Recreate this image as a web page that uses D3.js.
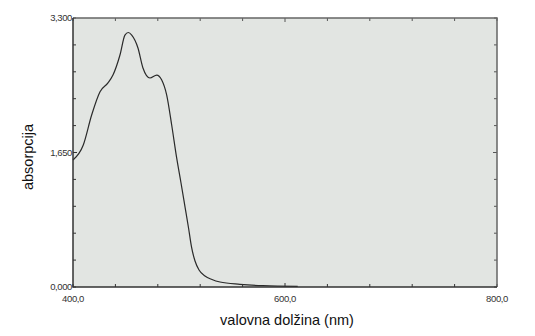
<!DOCTYPE html>
<html>
<head>
<meta charset="utf-8">
<script src="https://cdn.jsdelivr.net/npm/d3@7"></script>
<style>
body{margin:0;background:#fff}
svg{display:block}
</style>
</head>
<body>
<svg></svg>
<script>
// spectrum
var wavelength=[400,409.7,417.6,425.5,433,437.7,444.3,449,452.2,455.4,461.3,466,472.6,479,483.7,488.4,493.1,497.8,501.9,505.7,509,511.8,515.1,518.9,524.5,531.1,538.7,557.5,579.2,612]
var absorbance=[1.558,1.742,2.11,2.396,2.503,2.60,2.846,3.09,3.122,3.09,2.932,2.687,2.564,2.60,2.54,2.355,1.987,1.583,1.276,0.981,0.724,0.491,0.319,0.209,0.135,0.092,0.061,0.033,0.016,0.008]
var yLabels=["0,000","1,650","3,300"]
var xLabels=["400,0","600,0","800,0"]

var screen={width:535,height:336}
var box={left:73,top:18,right:497,bottom:287}

var svg=d3.select("svg")
  .attr("width",screen.width)
  .attr("height",screen.height)

var xScale=d3.scaleLinear().domain([400,800]).range([box.left,box.right])
var yScale=d3.scaleLinear().domain([0,3.3]).range([box.bottom,box.top])

svg.append("rect")
  .attr("x",box.left).attr("y",box.top)
  .attr("width",box.right-box.left).attr("height",box.bottom-box.top)
  .attr("fill","#e2e5e2")

var points=wavelength.map(function(w,i){return {x:w,y:absorbance[i]}})

svg.append("path")
  .datum(points)
  .attr("fill","none")
  .attr("stroke","#2a2a2a")
  .attr("stroke-width",1.2)
  .attr("d",d3.line()
     .x(function(d){return xScale(d.x)})
     .y(function(d){return yScale(d.y)})
     .curve(d3.curveMonotoneX))

var xTicks=d3.range(400,801,40)
var yTicks=d3.range(0,11).map(function(i){return i*0.33})

// ticks pointing inwards on all four sides
var tk=function(mid){return mid?4:3}
svg.selectAll(".xb").data(xTicks).enter().append("line")
  .attr("x1",function(d){return xScale(d)}).attr("x2",function(d){return xScale(d)})
  .attr("y1",box.bottom).attr("y2",function(d){return box.bottom-tk(d==600)})
  .attr("stroke","#333")
svg.selectAll(".xt").data(xTicks).enter().append("line")
  .attr("x1",function(d){return xScale(d)}).attr("x2",function(d){return xScale(d)})
  .attr("y1",box.top).attr("y2",function(d){return box.top+tk(d==600)})
  .attr("stroke","#555")
svg.selectAll(".yl").data(yTicks).enter().append("line")
  .attr("y1",function(d){return yScale(d)}).attr("y2",function(d){return yScale(d)})
  .attr("x1",box.left).attr("x2",function(d,i){return box.left+tk(i==5)})
  .attr("stroke","#333")
svg.selectAll(".yr").data(yTicks).enter().append("line")
  .attr("y1",function(d){return yScale(d)}).attr("y2",function(d){return yScale(d)})
  .attr("x1",box.right).attr("x2",function(d,i){return box.right-tk(i==5)})
  .attr("stroke","#555")

// frame
svg.append("path")
  .attr("d","M"+box.left+","+box.top+"H"+box.right+"V"+box.bottom)
  .attr("fill","none").attr("stroke","#666").attr("stroke-width",1.5)
svg.append("path")
  .attr("d","M"+box.left+","+box.top+"V"+box.bottom+"H"+box.right)
  .attr("fill","none").attr("stroke","#333").attr("stroke-width",1.5)

svg.selectAll(".ylab").data(yLabels).enter().append("text")
  .attr("x",box.left-1)
  .attr("y",function(d,i){return yScale(i*1.65)+3})
  .attr("text-anchor","end")
  .attr("font-family","Liberation Sans, Arial, sans-serif")
  .attr("font-size",9.5)
  .attr("letter-spacing",-0.4)
  .attr("fill","#333")
  .text(function(d){return d})

svg.selectAll(".xlab").data(xLabels).enter().append("text")
  .attr("x",function(d,i){return xScale(400+i*200)})
  .attr("y",box.bottom+15)
  .attr("text-anchor","middle")
  .attr("font-family","Liberation Sans, Arial, sans-serif")
  .attr("font-size",9.5)
  .attr("letter-spacing",-0.4)
  .attr("fill","#333")
  .text(function(d){return d})

svg.append("text")
  .attr("x",287).attr("y",325)
  .attr("text-anchor","middle")
  .attr("font-family","Liberation Sans, Arial, sans-serif")
  .attr("font-size",14.5)
  .attr("fill","#111")
  .text("valovna dolžina (nm)")

svg.append("text")
  .attr("transform","translate(33,157) rotate(-90)")
  .attr("text-anchor","middle")
  .attr("font-family","Liberation Sans, Arial, sans-serif")
  .attr("font-size",14.5)
  .attr("fill","#111")
  .text("absorpcija")
</script>
</body>
</html>
